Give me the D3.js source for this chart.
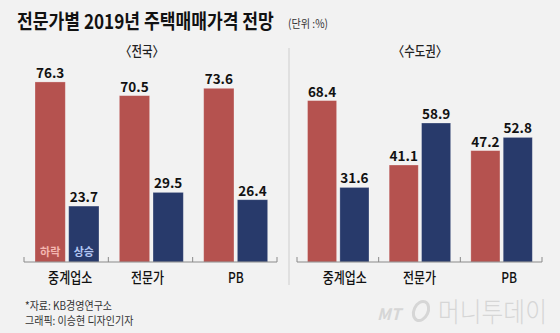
<!DOCTYPE html>
<html>
<head>
<meta charset="utf-8">
<script src="https://cdn.jsdelivr.net/npm/d3@7"></script>
<style>
  html, body { margin: 0; padding: 0; background: #f2f2f2; }
  svg { display: block; }
  text { font-family: "Noto Sans CJK KR", "Noto Sans", sans-serif; }
</style>
</head>
<body>
<svg id="chart" width="560" height="333"></svg>
<script>
// Survey answers (%), 하락 = fall, 상승 = rise
const categories = ["중계업소", "전문가", "PB"];
const seriesKeys = ["하락", "상승"];
const nationalDown = [76.3, 70.5, 73.6];
const nationalUp = [23.7, 29.5, 26.4];
const capitalDown = [68.4, 41.1, 47.2];
const capitalUp = [31.6, 58.9, 52.8];
const panelTitles = ["〈전국〉", "〈수도권〉"];

const colors = { "하락": "#b5524f", "상승": "#283a6b" };
const insideColors = { "하락": "#f4b6b1", "상승": "#b3c6f2" };

const svg = d3.select("#chart");
const W = 560, H = 333;
svg.append("rect").attr("width", W).attr("height", H).attr("fill", "#f2f2f2");

// Text drawn in a horizontally squeezed form (condensed face look).
// fit: {ratio} scales the natural width, {width} forces a total width.
function squeezed(parent, x, y, str, style, fit) {
  const t = parent.append("text").attr("x", 0).attr("y", 0).text(str);
  Object.entries(style).forEach(([k, v]) => t.attr(k, v));
  const len = t.node().getComputedTextLength();
  const sx = fit.width ? fit.width / len : fit.ratio;
  t.attr("transform", `translate(${x},${y}) scale(${sx},1)`);
  return t;
}

// Title and unit
squeezed(svg, 17, 29, "전문가별 2019년 주택매매가격 전망",
  { "font-size": 20, "font-weight": 700, fill: "#111" }, { width: 257 });
squeezed(svg, 288, 28, "(단위 :%)",
  { "font-size": 11.5, fill: "#333" }, { width: 40 });

// Shared value scale
const baseline = 262;
const y = d3.scaleLinear().domain([0, 100]).range([baseline, baseline - 236]);

const panels = [
  { title: panelTitles[0], titleX: 142, range: [24, 277], inner: [11, 75], down: nationalDown, up: nationalUp, insideLabels: true, labelDx: [4, -3, 1] },
  { title: panelTitles[1], titleX: 420, range: [297, 542], inner: [10.5, 72], down: capitalDown, up: capitalUp, insideLabels: false, labelDx: [7, 0, 8] }
];

// divider between panels
svg.append("line")
  .attr("x1", 289).attr("x2", 289).attr("y1", 48).attr("y2", 285)
  .attr("stroke", "#e0e0e0").attr("stroke-width", 2);

panels.forEach(p => {
  const x0 = d3.scaleBand().domain(categories).range(p.range).padding(0);
  const x1 = d3.scaleBand().domain(seriesKeys).range(p.inner).paddingInner(0.1);

  squeezed(svg, p.titleX, 56, p.title,
    { "text-anchor": "middle", "font-size": 13.5, "font-weight": 500, fill: "#222" }, { ratio: 0.85 });

  const rows = categories.map((c, i) => ({ cat: c, values: [
    { key: "하락", value: p.down[i] },
    { key: "상승", value: p.up[i] }
  ] }));

  const g = svg.append("g");
  const groups = g.selectAll("g.grp").data(rows).join("g")
    .attr("transform", d => `translate(${x0(d.cat)},0)`);

  groups.selectAll("rect").data(d => d.values).join("rect")
    .attr("x", d => x1(d.key))
    .attr("y", d => y(d.value))
    .attr("width", x1.bandwidth())
    .attr("height", d => baseline - y(d.value))
    .attr("fill", d => colors[d.key])
    .attr("stroke", "rgba(255,255,255,0.35)")
    .attr("stroke-width", 0.8);

  groups.selectAll("text.val").data(d => d.values).join("text")
    .attr("class", "val")
    .attr("x", d => x1(d.key) + x1.bandwidth() / 2)
    .attr("y", d => y(d.value) - 4)
    .attr("text-anchor", "middle")
    .attr("font-family", "'Liberation Sans', Arial, sans-serif")
    .attr("font-size", 13.5).attr("font-weight", 700).attr("fill", "#111")
    .text(d => d.value.toFixed(1));

  if (p.insideLabels) {
    groups.filter((d, i) => i === 0).selectAll("text.in").data(d => d.values).join("text")
      .attr("class", "in")
      .attr("x", d => x1(d.key) + x1.bandwidth() / 2)
      .attr("y", baseline - 6)
      .attr("text-anchor", "middle")
      .attr("font-size", 11).attr("font-weight", 700)
      .attr("fill", d => insideColors[d.key])
      .text(d => d.key);
  }

  // baseline axis with upward ticks at band edges
  const axisG = svg.append("g").attr("transform", `translate(0,${baseline})`);
  axisG.append("line")
    .attr("x1", p.range[0]).attr("x2", p.range[1])
    .attr("stroke", "#8a8a8a").attr("stroke-width", 1);
  const edges = categories.map(c => x0(c)).concat([p.range[1]]);
  axisG.selectAll("line.tick").data(edges).join("line")
    .attr("class", "tick")
    .attr("x1", d => d).attr("x2", d => d)
    .attr("y1", 0).attr("y2", -5)
    .attr("stroke", "#8a8a8a").attr("stroke-width", 1);

  categories.forEach((c, i) => {
    squeezed(svg, x0(c) + x0.bandwidth() / 2 + p.labelDx[i], 283, c,
      { "text-anchor": "middle", "font-size": 15, "font-weight": 500, fill: "#111" }, { ratio: 0.8 });
  });
});

// Source and credits
squeezed(svg, 25, 310, "*자료: KB경영연구소", { "font-size": 11.5, fill: "#333" }, { ratio: 0.87 });
squeezed(svg, 25, 325, "그래픽: 이승현 디자인기자", { "font-size": 11.5, fill: "#333" }, { ratio: 0.87 });

// Publisher mark
const logo = svg.append("g").attr("fill", "#d6d6d6");
squeezed(logo, 377, 320, "MT",
  { "font-family": "'Liberation Serif', serif", "font-style": "italic", "font-size": 16, "font-weight": 700 }, { width: 24 });
logo.append("ellipse").attr("cx", 421).attr("cy", 311).attr("rx", 7).attr("ry", 10)
  .attr("fill", "none").attr("stroke", "#d6d6d6").attr("stroke-width", 3)
  .attr("transform", "rotate(25,421,311)");
squeezed(logo, 438, 322, "머니투데이", { "font-size": 27, "font-weight": 300 }, { width: 109 });
</script>
</body>
</html>
